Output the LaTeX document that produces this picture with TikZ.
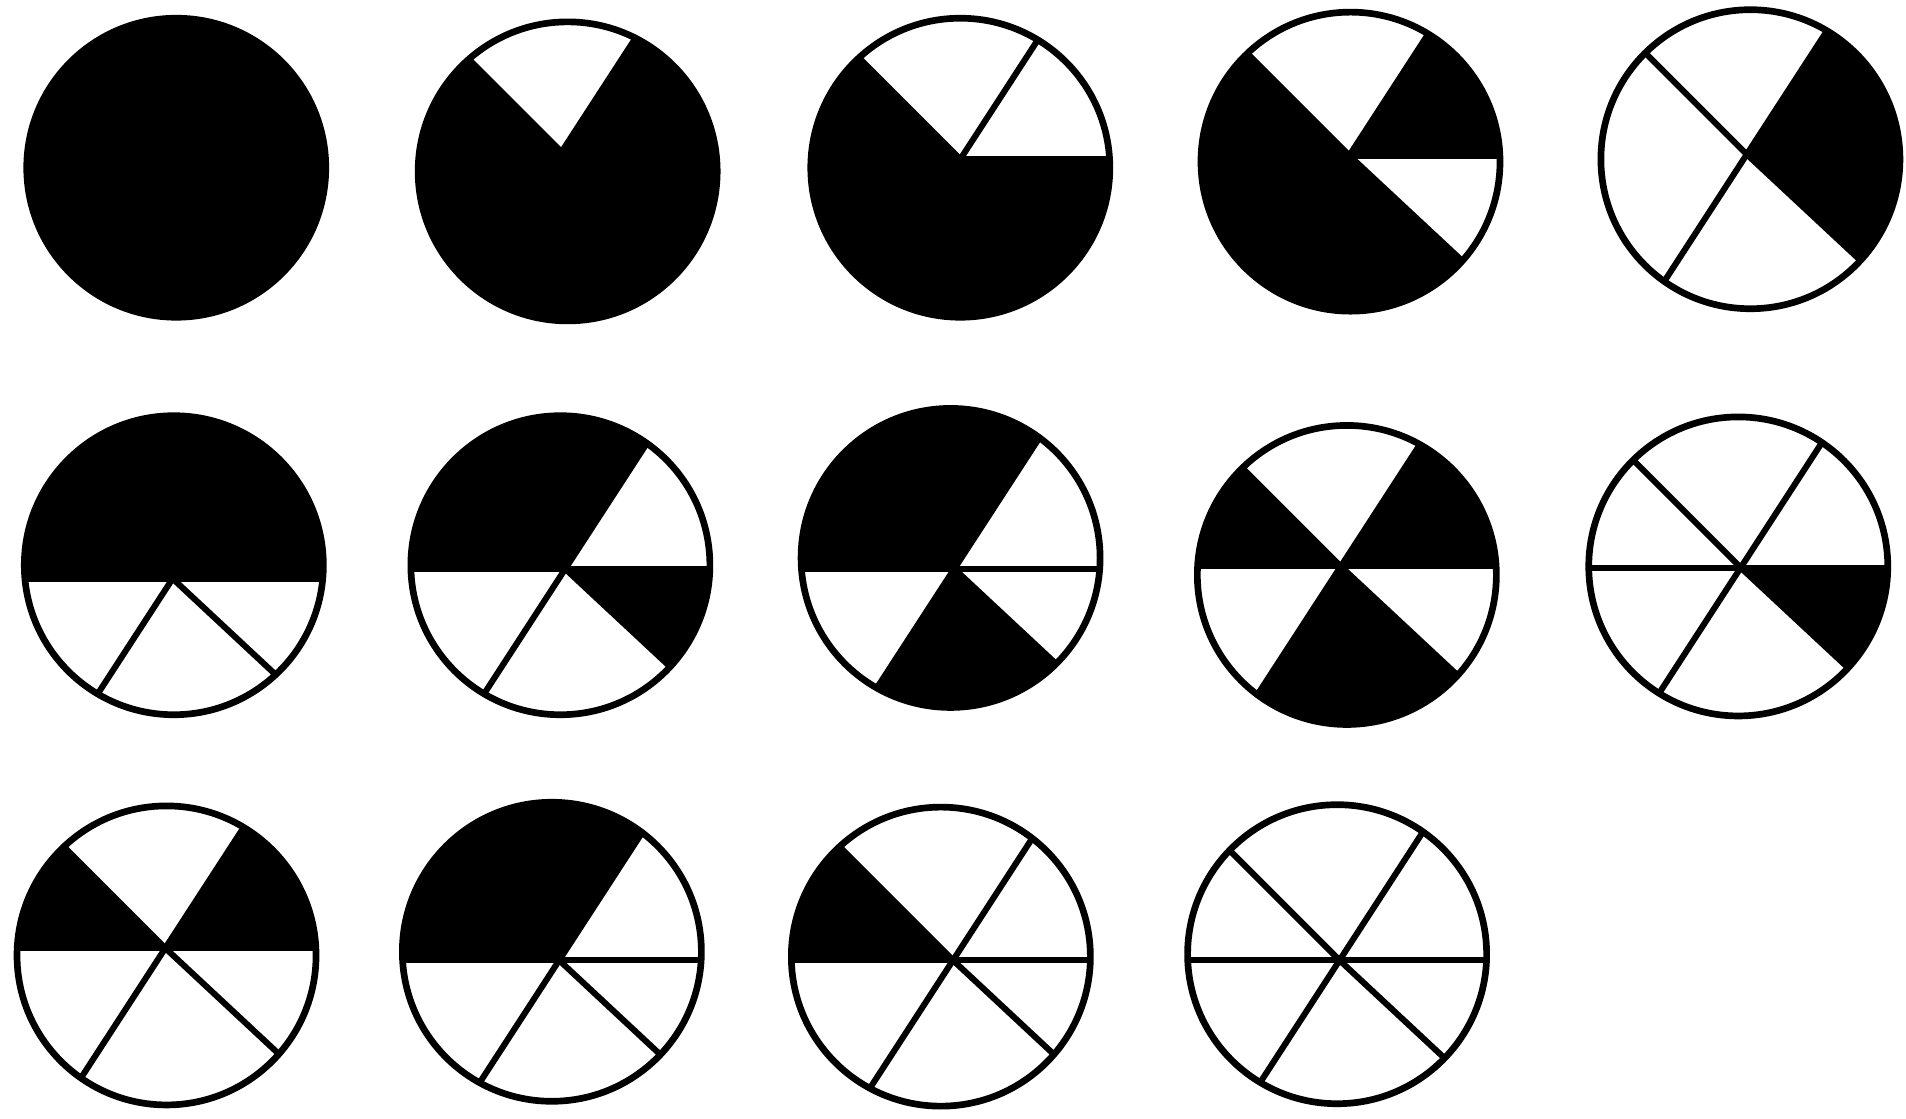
\documentclass[tikz,border=0pt]{standalone}
\begin{document}
\begin{tikzpicture}[x=1pt,y=1pt,
  rim/.style={line width=5.5pt},
  spoke/.style={line width=5pt},
  blk/.style={fill=black}]
\def\R{123}
% #1 centre, #2 hub offset, #3 black sectors, #4 spoke angles
\newcommand\wheelfill[3]{%
  \begin{scope}[shift={#1}]
  \clip (0,0) circle[radius=\R];
  \foreach \a/\b in {#3} {\fill[blk] #2 -- ++(\a:300) arc[start angle=\a, end angle=\b, radius=300] -- cycle;}
  \end{scope}}
\newcommand\wheellines[3]{%
  \begin{scope}[shift={#1}]
  \begin{scope}
  \clip (0,0) circle[radius=\R];
  \foreach \t in {#3} {\draw[spoke] #2 -- ++(\t:300);}
  \end{scope}
  \draw[rim] (0,0) circle[radius=\R];
  \end{scope}}
\useasboundingbox (0,0) rectangle (1568,920);
\fill[white] (0,0) rectangle (1568,920);
% Row 1
\coordinate (c1) at (145,782);
\fill[blk] (c1) circle[radius=\R]; \draw[rim] (c1) circle[radius=\R];
\coordinate (c2) at (467,779);
\wheelfill{(c2)}{(-5,16)}{135/417}
\wheellines{(c2)}{(-5,16)}{57,135}
\coordinate (c3) at (790,782);
\wheelfill{(c3)}{(0,7)}{135/360}
\wheellines{(c3)}{(0,7)}{0,57,135}
\coordinate (c4) at (1111,787);
\wheelfill{(c4)}{(-1,5)}{0/57,135/317}
\wheellines{(c4)}{(-1,5)}{0,57,135,317}
\coordinate (c5) at (1440,789);
\wheelfill{(c5)}{(-3,4)}{-43/57}
\wheellines{(c5)}{(-3,4)}{57,135,237,317}
% Row 2
\coordinate (c6) at (143,455);
\wheelfill{(c6)}{(-1,-11)}{0/180}
\wheellines{(c6)}{(-1,-11)}{0,180,237,317}
\coordinate (c7) at (461,455);
\wheelfill{(c7)}{(4,-3)}{57/180,317/360}
\wheellines{(c7)}{(4,-3)}{0,57,180,237,317}
\coordinate (c8) at (782,461);
\wheelfill{(c8)}{(3,-9)}{57/180,237/317}
\wheellines{(c8)}{(3,-9)}{0,57,180,237,317}
\coordinate (c9) at (1108,447);
\wheelfill{(c9)}{(-5,7)}{0/57,135/180,237/317}
\wheellines{(c9)}{(-5,7)}{0,57,135,180,237,317}
\coordinate (c10) at (1430,454);
\wheelfill{(c10)}{(2,-1)}{317/360}
\wheellines{(c10)}{(2,-1)}{0,57,135,180,237,317}
% Row 3
\coordinate (c11) at (137,134);
\wheelfill{(c11)}{(-1,6)}{0/57,135/180}
\wheellines{(c11)}{(-1,6)}{0,57,135,180,237,317}
\coordinate (c12) at (454,137);
\wheelfill{(c12)}{(6,-7)}{57/180}
\wheellines{(c12)}{(6,-7)}{0,57,180,237,317}
\coordinate (c13) at (774,133);
\wheelfill{(c13)}{(10,-3)}{135/180}
\wheellines{(c13)}{(10,-3)}{0,57,135,180,237,317}
\coordinate (c14) at (1100,135);
\wheellines{(c14)}{(2,-5)}{0,57,135,180,237,317}
\end{tikzpicture}
\end{document}
